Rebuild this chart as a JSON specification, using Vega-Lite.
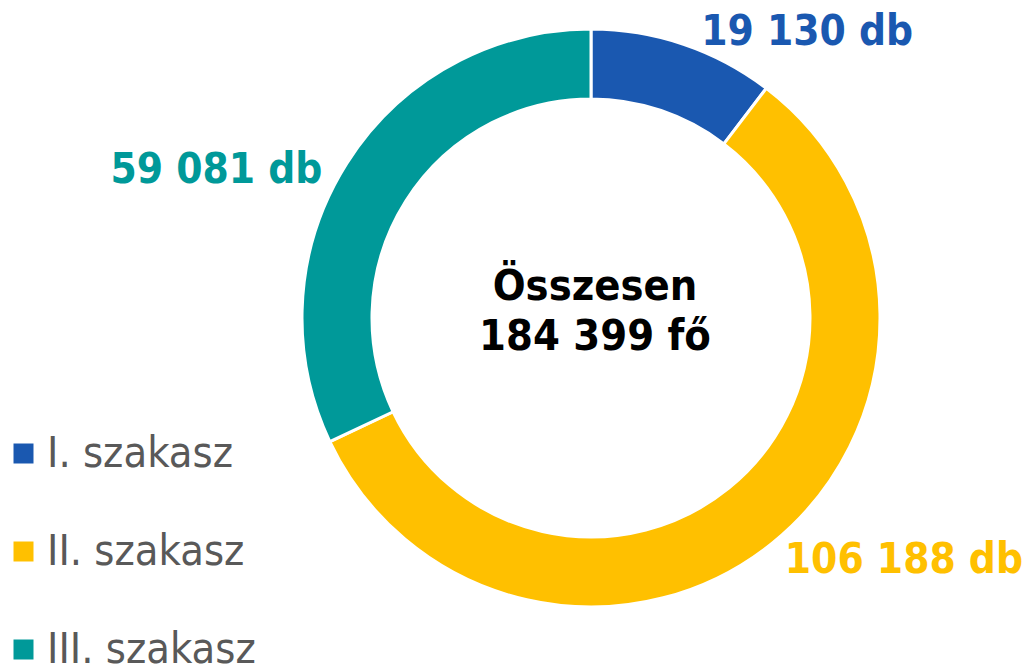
{
  "$schema": "https://vega.github.io/schema/vega-lite/v6.json",
  "width": 578,
  "height": 576,
  "autosize": {"type": "none"},
  "padding": {"left": 302, "top": 30, "right": 150, "bottom": 58},
  "background": "white",
  "config": {"view": {"stroke": null}, "font": "DejaVu Sans Condensed"},
  "datasets": {
    "szakaszok": [
      {"szakasz": "I. szakasz", "ertek": 19130, "cimke": "19 130 db"},
      {"szakasz": "II. szakasz", "ertek": 106188, "cimke": "106 188 db"},
      {"szakasz": "III. szakasz", "ertek": 59081, "cimke": "59 081 db"}
    ],
    "osszesen": [{"felirat": ["Összesen", "184 399 fő"]}]
  },
  "layer": [
    {
      "data": {"name": "szakaszok"},
      "mark": {"type": "arc", "outerRadius": 289, "innerRadius": 219, "stroke": "white", "strokeWidth": 3},
      "encoding": {
        "theta": {"field": "ertek", "type": "quantitative", "stack": true},
        "order": {"field": "szakasz", "type": "ordinal"},
        "color": {
          "field": "szakasz",
          "type": "nominal",
          "scale": {"domain": ["I. szakasz", "II. szakasz", "III. szakasz"], "range": ["#1A58B0", "#FFC000", "#009999"]},
          "legend": {
            "orient": "none",
            "legendX": -300,
            "legendY": 402,
            "title": null,
            "symbolType": "square",
            "symbolSize": 400,
            "symbolStrokeWidth": 0,
            "labelFontSize": 43,
            "labelColor": "#595959",
            "labelFont": "DejaVu Sans Condensed",
            "labelOffset": 2,
            "rowPadding": 54,
            "padding": 0,
            "labelLimit": 0
          }
        }
      }
    },
    {
      "data": {"name": "szakaszok"},
      "mark": {"type": "text", "radius": 288, "align": "left", "baseline": "alphabetic", "dx": 18, "fontSize": 42, "fontWeight": "bold", "font": "DejaVu Sans Condensed"},
      "encoding": {
        "theta": {"field": "ertek", "type": "quantitative", "stack": true},
        "order": {"field": "szakasz", "type": "ordinal"},
        "color": {"field": "szakasz", "type": "nominal"},
        "text": {"condition": {"test": "datum.szakasz === 'I. szakasz'", "field": "cimke", "type": "nominal"}, "value": ""}
      }
    },
    {
      "data": {"name": "szakaszok"},
      "mark": {"type": "text", "radius": 308, "align": "left", "baseline": "alphabetic", "dy": 16, "fontSize": 42, "fontWeight": "bold", "font": "DejaVu Sans Condensed"},
      "encoding": {
        "theta": {"field": "ertek", "type": "quantitative", "stack": true},
        "order": {"field": "szakasz", "type": "ordinal"},
        "color": {"field": "szakasz", "type": "nominal"},
        "text": {"condition": {"test": "datum.szakasz === 'II. szakasz'", "field": "cimke", "type": "nominal"}, "value": ""}
      }
    },
    {
      "data": {"name": "szakaszok"},
      "mark": {"type": "text", "radius": 318, "align": "right", "baseline": "alphabetic", "dy": 35, "fontSize": 42, "fontWeight": "bold", "font": "DejaVu Sans Condensed"},
      "encoding": {
        "theta": {"field": "ertek", "type": "quantitative", "stack": true},
        "order": {"field": "szakasz", "type": "ordinal"},
        "color": {"field": "szakasz", "type": "nominal"},
        "text": {"condition": {"test": "datum.szakasz === 'III. szakasz'", "field": "cimke", "type": "nominal"}, "value": ""}
      }
    },
    {
      "data": {"name": "osszesen"},
      "mark": {"type": "text", "align": "center", "baseline": "alphabetic", "dx": 4, "dy": -18, "lineHeight": 50, "fontSize": 43, "fontWeight": "bold", "font": "DejaVu Sans Condensed", "color": "black"},
      "encoding": {
        "text": {"field": "felirat", "type": "nominal"}
      }
    }
  ]
}
